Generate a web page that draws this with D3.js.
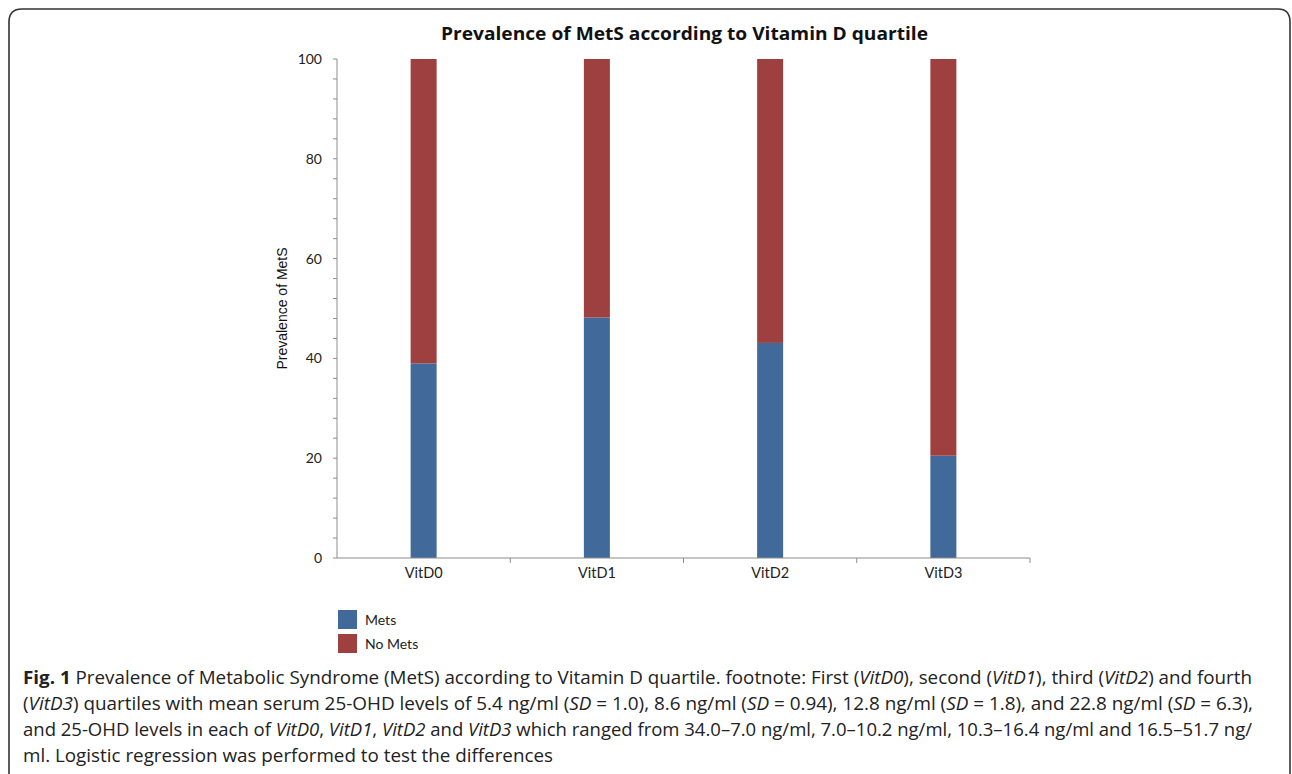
<!DOCTYPE html>
<html>
<head>
<meta charset="utf-8">
<script src="https://cdn.jsdelivr.net/npm/d3@7"></script>
<style>
  body { margin: 0; background: #fff; }
  svg { display: block; }
</style>
</head>
<body>
<svg id="chart" width="1292" height="774"></svg>
<script>
// data
var categories = ["VitD0", "VitD1", "VitD2", "VitD3"];
var metsValues = [39.0, 48.2, 43.1, 20.5];
var noMetsValues = [61.0, 51.8, 56.9, 79.5];
var seriesNames = ["Mets", "No Mets"];
var seriesColors = ["#41699a", "#9e4040"];
var yTicks = [0, 20, 40, 60, 80, 100];
var yMinorTicks = d3.range(0, 101, 4);

var chartTitle = "Prevalence of MetS according to Vitamin D quartile";
var yLabel = "Prevalence of MetS";

var svg = d3.select("#chart");

// figure frame
svg.append("path")
  .attr("d", "M9,790 L9,22 Q9,9 22,9 L1278,9 Q1290,9 1290,22 L1290,790")
  .attr("fill", "none")
  .attr("stroke", "#333")
  .attr("stroke-width", 1.6);

var margin = {top: 59, left: 337, right: 262, bottom: 216};
var plotWidth = 1292 - margin.left - margin.right;
var plotHeight = 774 - margin.top - margin.bottom;

var plot = svg.append("g")
  .attr("transform", "translate(" + margin.left + "," + margin.top + ")");

var x = d3.scaleBand().domain(categories).range([0, plotWidth]);
var y = d3.scaleLinear().domain([0, 100]).range([plotHeight, 0]);

var rows = categories.map(function(c, i) {
  return {cat: c, Mets: metsValues[i], "No Mets": noMetsValues[i]};
});
var stacked = d3.stack().keys(seriesNames)(rows);

var barW = 26;
plot.selectAll("g.series")
  .data(stacked)
  .enter().append("g")
  .attr("class", "series")
  .attr("fill", function(d, i) { return seriesColors[i]; })
  .selectAll("rect")
  .data(function(d) { return d; })
  .enter().append("rect")
  .attr("x", function(d) { return x(d.data.cat) + x.bandwidth() / 2 - barW / 2; })
  .attr("width", barW)
  .attr("y", function(d) { return y(d[1]); })
  .attr("height", function(d) { return y(d[0]) - y(d[1]); });

var tickFont = "Lato, 'Open Sans', sans-serif";

// y axis: minor ticks then labelled ticks
var yAxisG = plot.append("g");
yAxisG.append("line")
  .attr("x1", 0).attr("x2", 0)
  .attr("y1", 0).attr("y2", plotHeight)
  .attr("stroke", "#8c8c8c");
yAxisG.selectAll("line.minor")
  .data(yMinorTicks)
  .enter().append("line")
  .attr("class", "minor")
  .attr("x1", -4).attr("x2", 0)
  .attr("y1", function(d) { return y(d); })
  .attr("y2", function(d) { return y(d); })
  .attr("stroke", "#8c8c8c");
yAxisG.selectAll("text")
  .data(yTicks)
  .enter().append("text")
  .attr("x", -15)
  .attr("y", function(d) { return y(d); })
  .attr("dy", "0.35em")
  .attr("text-anchor", "end")
  .attr("font-family", tickFont)
  .attr("font-size", 14)
  .attr("fill", "#222")
  .text(function(d) { return d; });

// x axis
var xAxisG = plot.append("g").attr("transform", "translate(0," + plotHeight + ")");
xAxisG.append("line")
  .attr("x1", 0).attr("x2", plotWidth)
  .attr("stroke", "#8c8c8c");
xAxisG.selectAll("line.sep")
  .data(categories)
  .enter().append("line")
  .attr("class", "sep")
  .attr("x1", function(d) { return x(d) + x.bandwidth(); })
  .attr("x2", function(d) { return x(d) + x.bandwidth(); })
  .attr("y1", 0).attr("y2", 5)
  .attr("stroke", "#8c8c8c");
xAxisG.selectAll("text")
  .data(categories)
  .enter().append("text")
  .attr("x", function(d) { return x(d) + x.bandwidth() / 2; })
  .attr("y", 20)
  .attr("text-anchor", "middle")
  .attr("font-family", tickFont)
  .attr("font-size", 14.5)
  .attr("fill", "#222")
  .text(function(d) { return d; });

// title
svg.append("text")
  .attr("x", 441)
  .attr("y", 40)
  .attr("font-family", "'Open Sans', Lato, sans-serif")
  .attr("font-weight", "bold")
  .attr("font-size", 18.5)
  .attr("fill", "#111")
  .attr("textLength", 487)
  .attr("lengthAdjust", "spacingAndGlyphs")
  .text(chartTitle);

// y label
svg.append("text")
  .attr("transform", "translate(287," + (margin.top + plotHeight / 2) + ") rotate(-90)")
  .attr("text-anchor", "middle")
  .attr("font-family", "'Liberation Sans', Arial, sans-serif")
  .attr("font-size", 14)
  .attr("fill", "#111")
  .text(yLabel);

// legend
var legend = svg.append("g").attr("transform", "translate(338,610)");
seriesNames.forEach(function(name, i) {
  legend.append("rect")
    .attr("x", 0).attr("y", i * 24)
    .attr("width", 19).attr("height", 19)
    .attr("fill", seriesColors[i]);
  legend.append("text")
    .attr("x", 27).attr("y", i * 24 + 10)
    .attr("dy", "0.35em")
    .attr("font-family", tickFont)
    .attr("font-size", 14)
    .attr("fill", "#222")
    .text(name);
});

// caption
var captionLines = [
  [["b", "Fig. 1"], ["n", " Prevalence of Metabolic Syndrome (MetS) according to Vitamin D quartile. footnote: First ("], ["i", "VitD0"], ["n", "), second ("], ["i", "VitD1"], ["n", "), third ("], ["i", "VitD2"], ["n", ") and fourth"]],
  [["n", "("], ["i", "VitD3"], ["n", ") quartiles with mean serum 25-OHD levels of 5.4 ng/ml ("], ["i", "SD"], ["n", " = 1.0), 8.6 ng/ml ("], ["i", "SD"], ["n", " = 0.94), 12.8 ng/ml ("], ["i", "SD"], ["n", " = 1.8), and 22.8 ng/ml ("], ["i", "SD"], ["n", " = 6.3),"]],
  [["n", "and 25-OHD levels in each of "], ["i", "VitD0"], ["n", ", "], ["i", "VitD1"], ["n", ", "], ["i", "VitD2"], ["n", " and "], ["i", "VitD3"], ["n", " which ranged from 34.0–7.0 ng/ml, 7.0–10.2 ng/ml, 10.3–16.4 ng/ml and 16.5–51.7 ng/"]],
  [["n", "ml. Logistic regression was performed to test the differences"]]
];
var captionTargets = [1229, 1230, 1229, 530];
captionLines.forEach(function(parts, li) {
  var t = svg.append("text")
    .attr("x", 23)
    .attr("y", 684 + li * 26)
    .attr("font-family", "'Open Sans', sans-serif")
    .attr("font-size", 18)
    .attr("fill", "#222");
  parts.forEach(function(p) {
    var s = t.append("tspan").text(p[1]);
    if (p[0] === "b") s.attr("font-weight", "bold");
    if (p[0] === "i") s.attr("font-style", "italic");
  });
  t.attr("textLength", captionTargets[li]).attr("lengthAdjust", "spacingAndGlyphs");
});
</script>
</body>
</html>
